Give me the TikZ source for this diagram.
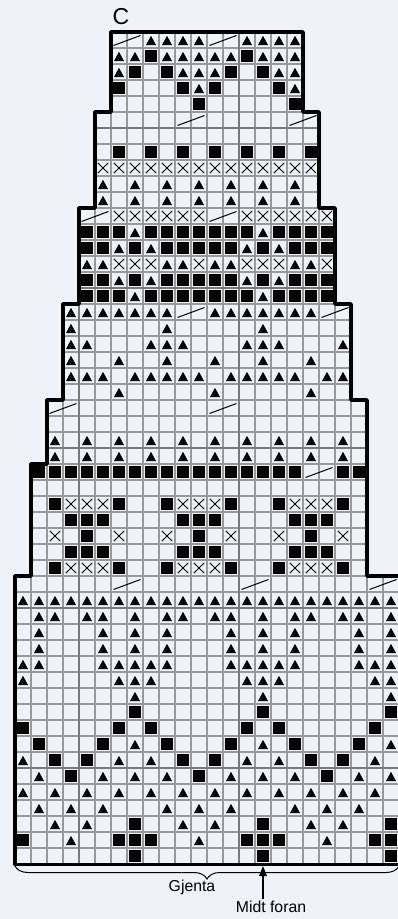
\documentclass[tikz,border=0pt]{standalone}
\usepackage{fontspec}
\setmainfont{Liberation Sans}
\usepackage{xcolor}
\usetikzlibrary{arrows.meta,decorations.pathreplacing}
\definecolor{paper}{HTML}{EFF3F7}
\definecolor{rule}{HTML}{97999B}
\definecolor{rulemajor}{HTML}{77797A}
\newcommand{\stairs}{(111,32) -- (303,32) -- (303,112) -- (319,112) -- (319,208) -- (335,208)
  -- (335,304) -- (351,304) -- (351,400) -- (367,400) -- (367,576) -- (402,576) -- (402,864.5)
  -- (15,864.5) -- (15,576) -- (31,576) -- (31,464) -- (47,464) -- (47,400) -- (63,400)
  -- (63,304) -- (79,304) -- (79,208) -- (95,208) -- (95,112) -- (111,112) -- cycle}

\begin{document}
\begin{tikzpicture}[
  x=1pt, y=-1pt,
  every node/.style={font=\fontsize{15.8}{18}\selectfont, inner sep=0pt},
  gridline/.style={draw=rule, line width=1.2pt},
  gridmajor/.style={draw=rulemajor, line width=1.5pt},
  outline/.style={line width=3.6pt, line join=round},
  arr/.style={-{Stealth[length=10pt, width=7.5pt, inset=0pt]}, line width=1.5pt},
  tri/.pic={\fill (-5,5) -- (5,5) -- (0,-4.2) -- cycle;},
  sqr/.pic={\fill (-5.6,-5.6) rectangle (5.6,5.6);},
  crs/.pic={\draw[line width=1pt] (-5.2,-5.2) -- (5.2,5.2) (-5.2,5.2) -- (5.2,-5.2);},
  slh/.pic={\draw[line width=1pt] (-13.5,5.5) -- (13.5,-4.5);}
]
\useasboundingbox[fill=paper] (0,0) rectangle (398,919);

\begin{scope}
  \clip \stairs;
  \foreach \c in {0,...,24}
    \draw[gridline] (15+16*\c,32) -- (15+16*\c,865);
  \foreach \r in {1,...,51}
    \draw[gridline] (15,32+16*\r) -- (400,32+16*\r);
  \foreach \c in {4,14}
    \draw[gridmajor] (15+16*\c,32) -- (15+16*\c,865);
  \foreach \r in {6,16,26,36,46}
    \draw[gridmajor] (15,32+16*\r) -- (400,32+16*\r);
\end{scope}

\foreach \r/\cols in {
  0/{8,9,10,11,14,15,16,17},
  1/{6,7,9,10,11,12,13,15,16,17},
  2/{6,10,11,12,16,17},
  3/{11,17},
  9/{5,7,9,11,13,15,17},
  10/{5,7,9,11,13,15,17},
  12/{7,15},
  13/{6,8,14,16},
  14/{4,5,9,10,12,13,17,18},
  15/{6,8,14,16},
  16/{7,15},
  17/{3,4,5,6,7,8,9,12,13,14,15,16,17,18},
  18/{3,9,15},
  19/{3,4,8,9,10,14,15,16,20},
  20/{3,6,9,12,15,18},
  21/{3,4,5,7,8,9,10,11,13,14,15,16,17,19,20},
  22/{6,12,18},
  25/{2,4,6,8,10,12,14,16,18,20},
  26/{2,4,6,8,10,12,14,16,18,20},
  35/{0,...,23},
  36/{1,2,4,5,7,9,10,12,13,15,17,18,20,21,23},
  37/{1,5,7,9,13,15,17,21,23},
  38/{1,5,7,9,13,15,17,21,23},
  39/{0,1,5,6,7,8,9,13,14,15,16,17,21,22,23},
  40/{0,6,7,8,14,15,16,22,23},
  41/{7,15,23},
  44/{7,15,23},
  45/{0,6,8,14,16,22},
  46/{1,5,7,9,13,15,17,21,23},
  47/{0,2,4,6,8,10,12,14,16,18,20,22},
  48/{1,3,5,9,11,13,17,19,21},
  49/{2,4,10,12,18,20},
  50/{3,11,19}}
  \foreach \c in \cols
    \pic at (23+16*\c,40+16*\r) {tri};

\foreach \r/\cols in {
  1/{8,14},
  2/{7,9,13,15},
  3/{6,10,12,16},
  4/{11,17},
  7/{6,8,10,12,14,16,18},
  12/{4,5,6,8,9,10,11,12,13,14,16,17,18,19},
  13/{4,5,7,9,10,11,12,13,15,17,18,19},
  15/{4,5,7,9,10,11,12,13,15,17,18,19},
  16/{4,5,6,8,9,10,11,12,13,14,16,17,18,19},
  27/{1,...,17,20,21},
  29/{2,6,9,13,16,20},
  30/{3,4,5,10,11,12,17,18,19},
  31/{4,11,18},
  32/{3,4,5,10,11,12,17,18,19},
  33/{2,6,9,13,16,20},
  42/{7,15,23},
  43/{0,6,8,14,16,22},
  44/{1,5,9,13,17,21},
  45/{2,4,10,12,18,20},
  46/{3,11,19},
  49/{7,15,23},
  50/{0,6,7,8,14,15,16,22,23},
  51/{7,15,23}}
  \foreach \c in \cols
    \pic at (23+16*\c,40+16*\r) {sqr};

\foreach \r/\cols in {
  8/{5,...,18},
  11/{6,7,8,9,10,11,14,15,16,17,18,19},
  14/{6,7,8,11,14,15,16,19},
  29/{3,4,5,10,11,12,17,18,19},
  31/{2,6,9,13,16,20},
  33/{3,4,5,10,11,12,17,18,19}}
  \foreach \c in \cols
    \pic at (23+16*\c,40+16*\r) {crs};

\foreach \r/\cols in {
  0/{6,12},
  5/{10,17},
  11/{4,12},
  17/{10,19},
  23/{2,12},
  27/{18},
  34/{6,14,22}}
  \foreach \c in \cols
    \pic at (31+16*\c,40+16*\r) {slh};

\draw[outline] \stairs;

\node[font=\fontsize{23}{24}\selectfont] (sec) at (121,17) {C};
\node (rep) at (192,887) {Gjenta};
\node (mid) at (271,907) {Midt foran};

\coordinate (repL) at (15,866);
\coordinate (repR) at (399,866);
\coordinate (midtip) at (263,866);
\draw[line width=1pt, decorate, decoration={brace, mirror, amplitude=13pt, aspect=0.5}]
  (repL) -- (repR);
\draw[arr] (mid.north -| midtip) ++(0,-2) -- (midtip);
\end{tikzpicture}
\end{document}
